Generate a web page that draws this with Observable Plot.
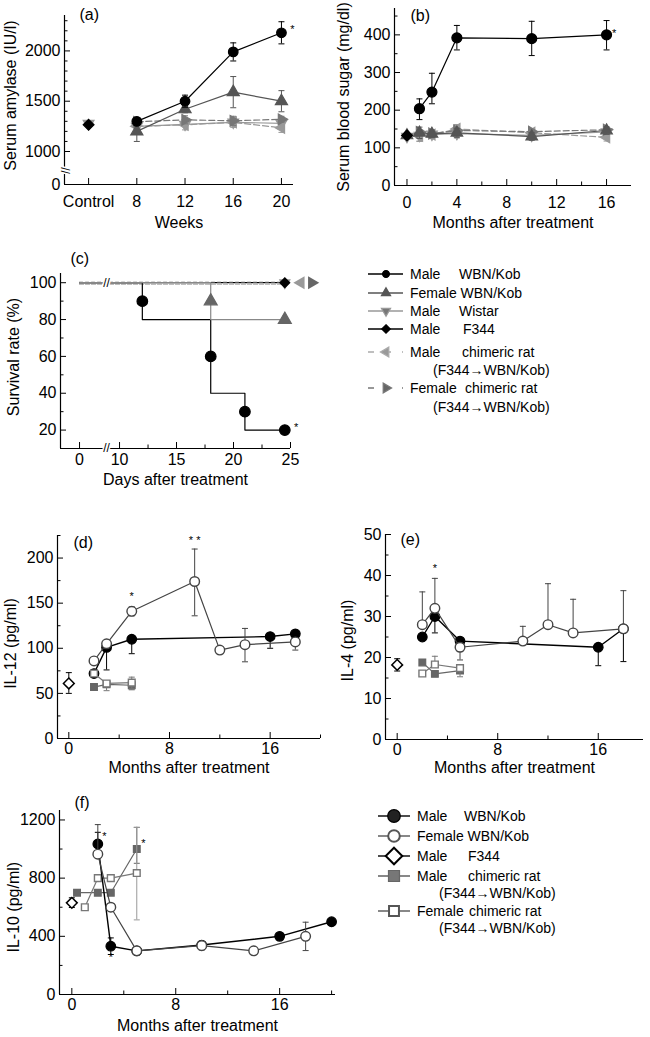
<!DOCTYPE html>
<html><head><meta charset="utf-8">
<script src="https://cdn.jsdelivr.net/npm/d3@7"></script>
<script src="https://cdn.jsdelivr.net/npm/@observablehq/plot@0.6"></script>
<style>
body{margin:0;background:#fff;font-family:"Liberation Sans",Arial,Helvetica,sans-serif;}
#root{position:relative;width:650px;height:1037px;overflow:hidden;background:#fff;}
.lg{position:absolute;font-size:14px;line-height:16px;white-space:pre;color:#000;}
.sw{position:absolute;overflow:visible;}
</style></head><body><div id="root"></div>
<script>
// ---------------- DATA ----------------
// (a) Serum amylase (IU/l) vs weeks
const aWeeks = [8, 12, 16, 20];
const aControlPos = 4;               // position of the "Control" tick
const aAxisZero = 672;               // broken-axis value shown as "0"
const aBreak = 811;
const aMaleWBN = [1300, 1500, 1990, 2180];
const aMaleWBNErr = [25, 60, 90, 110];
const aFemaleWBN = [1200, 1420, 1590, 1500];
const aFemaleWBNErr = [100, 35, 155, 105];
const aMaleWistar = [1250, 1270, 1290, 1280];
const aMaleChim = [1250, 1265, 1290, 1235];
const aMaleChimErr = [40, 50, 50, 45];
const aFemaleChim = [1295, 1315, 1305, 1320];
const aFemaleChimErr = [35, 40, 45, 30];
const aControlF344 = 1265, aControlWistar = 1278, aControlErr = 25;
const aStar = {x: 20.9, y: 2210};

// (b) Serum blood sugar (mg/dl) vs months
const bMonths = [0, 1, 2, 4, 10, 16];
const bMaleWBN = [null, 204, 248, 392, 390, 400];
const bMaleWBNLo = [null, 175, 217, 360, 345, 360];
const bMaleWBNHi = [null, 230, 298, 425, 436, 438];
const bFemaleWBN = [133, 140, 137, 140, 130, 146];
const bMaleWistar = [130, 133, 136, 138, 133, 142];
const bMaleChim = [null, 132, 135, 150, 140, 128];
const bFemaleChim = [null, 142, 138, 146, 143, 148];
const bGrayErr = [8, 15, 10, 12, 10, 10];
const bF344 = 133;
const bStar = {x: 16.6, y: 405};

// (c) Survival rate (%) vs days
const cZeroPos = 6.49;   // axis break: day 0 drawn here
const cBreak = 8.86;
const cTickDays = [0, 10, 15, 20, 25];
const cMaleWBNDays = [0, 12, 18, 21, 24.5];
const cMaleWBNSurv = [100, 80, 40, 20, 20];
const cMaleWBNMarkDays = [12, 18, 21, 24.5];
const cMaleWBNMarkSurv = [90, 60, 30, 20];
const cFemaleWBNDays = [0, 18, 24.5];
const cFemaleWBNSurv = [100, 80, 80];
const cFemaleWBNMarkDays = [18, 24.5];
const cFemaleWBNMarkSurv = [90, 80];
const cOtherDays = [0, 24.5];
const cOtherSurv = [100, 100];
const cStar = {x: 25.5, y: 21.6};

// (d) IL-12 (pg/ml)
const dMaleWBNMonths = [2, 3, 5, 16, 18];
const dMaleWBN = [72, 101, 110, 113, 116];
const dMaleWBNLo = [null, 76, 94, 100, null];
const dFemaleWBNMonths = [2, 3, 5, 10, 12, 14, 18];
const dFemaleWBN = [86, 105, 141, 174, 98, 104, 107];
const dFemaleWBNLo = [null, null, 136, 136, null, 85, 98];
const dFemaleWBNHi = [null, null, 146, 210, null, 122, null];
const dF344 = 61, dF344Lo = 50, dF344Hi = 73;
const dChimMonths = [2, 3, 5];
const dMaleChim = [57, 60, 59];
const dMaleChimLo = [null, null, 54];
const dFemaleChim = [72, 61, 62];
const dFemaleChimLo = [null, 53, 55];
const dFemaleChimHi = [null, null, 68];
const dStars = [{x: 5, y: 157, s: "*"}, {x: 10, y: 220, s: "* *"}];

// (e) IL-4 (pg/ml)
const eMaleWBNMonths = [2, 3, 5, 16, 18];
const eMaleWBN = [25, 30, 24, 22.5, 27];
const eMaleWBNLo = [null, 26, 21.5, 18, 19];
const eFemaleWBNMonths = [2, 3, 5, 10, 12, 14, 18];
const eFemaleWBN = [28, 32, 22.5, 24, 28, 26, 27];
const eFemaleWBNHi = [36, 39.3, null, 27.6, 38, 34.2, 36.3];
const eFemaleWBNLo = [null, null, 19.4, null, null, null, null];
const eF344 = 18.2, eF344Lo = 16.7, eF344Hi = 19.7;
const eChimMonths = [2, 3, 5];
const eMaleChim = [18.8, 16, 16.8];
const eFemaleChim = [16.1, 18.3, 17.4];
const eFemaleChimHi = [null, 20.3, null];
const eFemaleChimLo = [null, null, 15.3];
const eStars = [{x: 3, y: 41.6, s: "*"}];

// (f) IL-10 (pg/ml)
const fMaleWBNMonths = [2, 3, 5, 10, 16, 20];
const fMaleWBN = [1035, 332, 300, 340, 400, 500];
const fMaleWBNLo = [null, 275, null, null, null, null];
const fMaleWBNHi = [1115, 389, null, null, null, null];
const fFemaleWBNMonths = [2, 3, 5, 10, 14, 18];
const fFemaleWBN = [965, 600, 300, 336, 300, 400];
const fFemaleWBNLo = [null, null, null, 306, null, 302];
const fFemaleWBNHi = [1168, null, null, 366, null, 497];
const fF344 = 630, fF344Lo = 598, fF344Hi = 665;
const fMaleChimMonths = [0.4, 2, 3, 5];
const fMaleChim = [700, 700, 700, 1000];
const fMaleChimLo = [null, null, null, 902];
const fMaleChimHi = [null, null, null, 1149];
const fFemaleChimMonths = [1, 2, 3, 5];
const fFemaleChim = [600, 800, 800, 835];
const fFemaleChimLo = [null, null, null, 513];
const fFemaleChimHi = [null, null, null, 1149];
const fStars = [{x: 2.5, y: 1085, s: "*"}, {x: 3, y: 254, s: "*"}, {x: 5.5, y: 1037, s: "*"}];

// Legends
const legendC = [
  {parts: ["Male", "WBN/Kob"]}, {parts: ["Female WBN/Kob"]}, {parts: ["Male", "Wistar"]},
  {parts: ["Male", "F344"]}, {parts: ["Male", "chimeric rat"]}, {parts: ["(F344→WBN/Kob)"]},
  {parts: ["Female", "chimeric rat"]}, {parts: ["(F344→WBN/Kob)"]}
];
const legendF = [
  {parts: ["Male", "WBN/Kob"]}, {parts: ["Female WBN/Kob"]}, {parts: ["Male", "F344"]},
  {parts: ["Male", "chimeric rat"]}, {parts: ["(F344→WBN/Kob)"]},
  {parts: ["Female", "chimeric rat"]}, {parts: ["(F344→WBN/Kob)"]}
];

// ---------------- HELPERS ----------------
const FONT = '"Liberation Sans", Arial, Helvetica, sans-serif';
const root = document.getElementById("root");
const cap = {draw(ctx, size) { const w = Math.sqrt(size / Math.PI); ctx.moveTo(-w, 0); ctx.lineTo(w, 0); }};
const tri = deg => ({draw(ctx, size) {
  const R = Math.sqrt(size / 1.299);
  for (let i = 0; i < 3; i++) {
    const a = (deg + i * 120 - 90) * Math.PI / 180;
    const px = R * Math.cos(a), py = R * Math.sin(a);
    if (i === 0) ctx.moveTo(px, py); else ctx.lineTo(px, py);
  }
  ctx.closePath();
}});
const CIRCLE = d3.symbolCircle;
const TRI_UP = tri(0), TRI_DOWN = tri(180), TRI_LEFT = tri(-90), TRI_RIGHT = tri(90);
const DIAMOND = {draw(ctx, size) { const h = Math.sqrt(size / 2); ctx.moveTo(0, -h); ctx.lineTo(h, 0); ctx.lineTo(0, h); ctx.lineTo(-h, 0); ctx.closePath(); }};
const SQUARE = {draw(ctx, size) { const h = Math.sqrt(size) / 2; ctx.rect(-h, -h, 2 * h, 2 * h); }};

function series(xs, ys, o) {
  const {lo = [], hi = [], color = "#000", lineColor = color, errColor = color, dash = null, line = true,
         sym = CIRCLE, fill = color, r = 4.5, sw = 1.2, curve = "linear", capR = 3, msw = 1.2} = o;
  const rows = xs.map((x, i) => ({x, y: ys[i], lo: lo[i], hi: hi[i]})).filter(d => d.y != null);
  const L = rows.filter(d => d.lo != null), H = rows.filter(d => d.hi != null);
  return [
    line && Plot.line(rows, {x: "x", y: "y", stroke: lineColor, strokeWidth: sw, strokeDasharray: dash, curve}),
    Plot.ruleX(L, {x: "x", y1: "y", y2: "lo", stroke: errColor, strokeWidth: 1}),
    Plot.ruleX(H, {x: "x", y1: "y", y2: "hi", stroke: errColor, strokeWidth: 1}),
    Plot.dot(L, {x: "x", y: "lo", symbol: cap, r: capR, fill: "none", stroke: errColor, strokeWidth: 1}),
    Plot.dot(H, {x: "x", y: "hi", symbol: cap, r: capR, fill: "none", stroke: errColor, strokeWidth: 1}),
    sym && Plot.dot(rows, {x: "x", y: "y", symbol: sym, r, fill, stroke: color, strokeWidth: msw})
  ].filter(Boolean);
}
const pm = (v, e, s) => v.map((d, i) => d == null ? null : d + s * e[i]);
const stars = (arr, size = 11) => Plot.text(arr, {x: "x", y: "y", text: "s", fontSize: size, fill: "#000"});

function panel(cfg) {
  const {left, top, width, height, m: [mt, mr, mb, ml], xd, yd, xt, xf = d => String(d), xm = [], yt, yf = d => String(d), ym = [],
         xPad, yPad = 4, ytitle, ytdx, ytdy = 0, xtitle, xtdy, tag, tagdx, tagdy, marks} = cfg;
  const pw = width - ml - mr, ph = height - mt - mb;
  const chart = Plot.plot({
    width, height, marginTop: mt, marginRight: mr, marginBottom: mb, marginLeft: ml,
    x: {type: "linear", domain: xd, ticks: xt, tickFormat: xf, tickSize: 0, tickPadding: xPad, label: null},
    y: {type: "linear", domain: yd, ticks: yt, tickFormat: yf, tickSize: 0, tickPadding: yPad, label: null},
    style: {fontSize: "16px", fontFamily: FONT, color: "#000", background: "transparent", overflow: "visible"},
    marks: [
      Plot.ruleX([xd[0]], {stroke: "#000", strokeWidth: 1.2}),
      Plot.ruleY([yd[0]], {stroke: "#000", strokeWidth: 1.2}),
      Plot.tickX(xt, {x: d => d, insetTop: ph - 6, stroke: "#000"}),
      Plot.tickX(xm, {x: d => d, insetTop: ph - 3.5, stroke: "#000"}),
      Plot.tickY(yt, {y: d => d, insetRight: pw - 6, stroke: "#000"}),
      Plot.tickY(ym, {y: d => d, insetRight: pw - 3.5, stroke: "#000"}),
      Plot.text([ytitle], {text: d => d, frameAnchor: "left", textAnchor: "middle", lineAnchor: "middle", rotate: -90, dx: ytdx, dy: ytdy, fontSize: 16, fill: "#000"}),
      Plot.text([xtitle], {text: d => d, frameAnchor: "bottom", textAnchor: "middle", lineAnchor: "middle", dy: xtdy, fontSize: 16, fill: "#000"}),
      Plot.text([tag], {text: d => d, frameAnchor: "top-left", textAnchor: "start", lineAnchor: "middle", dx: tagdx, dy: tagdy, fontSize: 16, fill: "#000"}),
      ...marks
    ]
  });
  chart.style.position = "absolute";
  chart.style.left = left + "px";
  chart.style.top = top + "px";
  root.appendChild(chart);
}
const breakMark = (x, y, rot) => Plot.text(["//"], {x: () => x, y: () => y, text: d => d, rotate: rot, fontSize: 12,
  fill: "#000", stroke: "white", strokeWidth: 3});

// ---------------- (a) ----------------
panel({
  left: 0, top: 0, width: 325, height: 235, m: [15, 32, 51, 64],
  xd: [2, 21], yd: [aAxisZero, 2352],
  xt: [aControlPos, ...aWeeks], xf: d => d === aControlPos ? "Control" : String(d), xPad: 11,
  yt: [aAxisZero, 1000, 1500, 2000], yf: d => d === aAxisZero ? "0" : String(d),
  ym: [1100, 1200, 1300, 1400, 1600, 1700, 1800, 1900, 2100, 2200, 2300],
  ytitle: "Serum amylase (IU/l)", ytdx: -54, ytdy: -4.5, xtitle: "Weeks", xtdy: 38,
  tag: "(a)", tagdx: 15, tagdy: -1,
  marks: [
    ...series(aWeeks, aMaleWistar, {color: "#999", sym: TRI_DOWN, r: 4}),
    ...series(aWeeks, aMaleChim, {lo: pm(aMaleChim, aMaleChimErr, -1), hi: pm(aMaleChim, aMaleChimErr, 1), color: "#999", dash: "6,3", sym: TRI_LEFT, r: 4}),
    ...series(aWeeks, aFemaleChim, {lo: pm(aFemaleChim, aFemaleChimErr, -1), hi: pm(aFemaleChim, aFemaleChimErr, 1), color: "#777", dash: "6,3", sym: TRI_RIGHT, r: 4}),
    ...series(aWeeks, aFemaleWBN, {lo: pm(aFemaleWBN, aFemaleWBNErr, -1), hi: pm(aFemaleWBN, aFemaleWBNErr, 1), color: "#555", sym: TRI_UP, r: 4.5}),
    ...series(aWeeks, aMaleWBN, {lo: pm(aMaleWBN, aMaleWBNErr, -1), hi: pm(aMaleWBN, aMaleWBNErr, 1), color: "#000", r: 4.8}),
    ...series([aControlPos], [aControlWistar], {line: false, color: "#999", sym: TRI_DOWN, r: 4, lo: [aControlWistar - aControlErr], hi: [aControlWistar + aControlErr]}),
    ...series([aControlPos], [aControlF344], {line: false, color: "#000", sym: DIAMOND, r: 4.3}),
    stars([{...aStar, s: "*"}]),
    breakMark(2, aBreak, 90)
  ]
});

// ---------------- (b) ----------------
panel({
  left: 330, top: 0, width: 320, height: 235, m: [8, 19, 50, 64],
  xd: [-1, 18], yd: [0, 470],
  xt: [0, 4, 8, 12, 16], xm: [2, 6, 10, 14], xPad: 11,
  yt: [0, 100, 200, 300, 400], ym: [50, 150, 250, 350, 450],
  ytitle: "Serum blood sugar (mg/dl)", ytdx: -51, ytdy: 0, xtitle: "Months after treatment", xtdy: 37,
  tag: "(b)", tagdx: 16, tagdy: 7,
  marks: [
    ...series(bMonths, bMaleWistar, {lo: pm(bMaleWistar, bGrayErr, -1), hi: pm(bMaleWistar, bGrayErr, 1), color: "#999", sym: TRI_DOWN, r: 4}),
    ...series(bMonths, bMaleChim, {lo: pm(bMaleChim, bGrayErr, -1), hi: pm(bMaleChim, bGrayErr, 1), color: "#999", dash: "6,3", sym: TRI_LEFT, r: 4}),
    ...series(bMonths, bFemaleChim, {color: "#777", dash: "6,3", sym: TRI_RIGHT, r: 4}),
    ...series(bMonths, bFemaleWBN, {lo: pm(bFemaleWBN, bGrayErr, -1), hi: pm(bFemaleWBN, bGrayErr, 1), color: "#555", sym: TRI_UP, r: 4.3}),
    ...series([0], [bF344], {line: false, color: "#000", sym: DIAMOND, r: 4.3}),
    ...series(bMonths, bMaleWBN, {lo: bMaleWBNLo, hi: bMaleWBNHi, color: "#000", r: 5}),
    stars([{...bStar, s: "*"}])
  ]
});

// ---------------- (c) ----------------
const cx = d => d < 10 ? cZeroPos + d * (10 - cZeroPos) / 10 : d;
const cTickLabel = new Map(cTickDays.map(d => [cx(d), d]));
const cOther = cOtherDays.map((d, i) => ({x: cx(d), y: cOtherSurv[i]}));
const cEnd = [{x: cOtherDays[1], y: cOtherSurv[1]}];
panel({
  left: 0, top: 235, width: 325, height: 255, m: [38, 35, 42, 60],
  xd: [4.82, 25], yd: [10, 105],
  xt: cTickDays.map(cx), xf: v => String(cTickLabel.get(v)), xm: [12.5, 17.5, 22.5], xPad: 5,
  yt: [20, 40, 60, 80, 100], ym: [30, 50, 70, 90],
  ytitle: "Survival rate (%)", ytdx: -47, ytdy: -4, xtitle: "Days after treatment", xtdy: 31,
  tag: "(c)", tagdx: 10, tagdy: -15,
  marks: [
    Plot.line(cOther, {x: "x", y: "y", stroke: "#000", strokeWidth: 1.2}),
    Plot.line(cOther, {x: "x", y: "y", stroke: "#aaa", strokeWidth: 1.2, strokeDasharray: "4,2", dy: 1.5}),
    Plot.line(cOther, {x: "x", y: "y", stroke: "#777", strokeWidth: 1, strokeDasharray: "3,3", dy: -0.5}),
    ...series(cMaleWBNDays.map(cx), cMaleWBNSurv, {color: "#000", sym: null, curve: "step-after"}),
    ...series(cFemaleWBNDays.map(cx), cFemaleWBNSurv, {color: "#888", sym: null, curve: "step-after"}),
    ...series(cMaleWBNMarkDays, cMaleWBNMarkSurv, {line: false, color: "#000", r: 5.3}),
    ...series(cFemaleWBNMarkDays, cFemaleWBNMarkSurv, {line: false, color: "#666", sym: TRI_UP, r: 4.8}),
    Plot.dot(cEnd, {x: "x", y: "y", symbol: TRI_DOWN, r: 4.5, fill: "#999"}),
    Plot.dot(cEnd, {x: "x", y: "y", symbol: DIAMOND, r: 4.6, fill: "#000"}),
    Plot.dot(cEnd, {x: "x", y: "y", symbol: TRI_LEFT, r: 4.8, fill: "#999", dx: 16}),
    Plot.dot(cEnd, {x: "x", y: "y", symbol: TRI_RIGHT, r: 4.8, fill: "#666", dx: 27}),
    stars([{...cStar, s: "*"}]),
    breakMark(cBreak, 10, 0),
    breakMark(cBreak, 100, 0)
  ]
});

// ---------------- (d) ----------------
panel({
  left: 0, top: 490, width: 330, height: 295, m: [45, 10, 47, 57],
  xd: [-0.9, 20], yd: [0, 225],
  xt: [0, 8, 16], xm: [4, 12, 20], xPad: 4,
  yt: [0, 50, 100, 150, 200], ym: [25, 75, 125, 175, 225],
  ytitle: "IL-12 (pg/ml)", ytdx: -47, ytdy: 6.5, xtitle: "Months after treatment", xtdy: 29,
  tag: "(d)", tagdx: 16, tagdy: 7,
  marks: [
    ...series([0], [dF344], {line: false, lo: [dF344Lo], hi: [dF344Hi], color: "#000", sym: DIAMOND, fill: "white", r: 4.3, msw: 1.5}),
    ...series(dMaleWBNMonths, dMaleWBN, {lo: dMaleWBNLo, color: "#000", r: 4.8, sw: 1.4}),
    ...series(dChimMonths, dMaleChim, {lo: dMaleChimLo, color: "#666", sym: SQUARE, r: 3.8}),
    ...series(dChimMonths, dFemaleChim, {lo: dFemaleChimLo, hi: dFemaleChimHi, color: "#777", sym: SQUARE, fill: "white", r: 3.8, msw: 1.4}),
    ...series(dFemaleWBNMonths, dFemaleWBN, {lo: dFemaleWBNLo, hi: dFemaleWBNHi, color: "#444", fill: "white", r: 4.8, msw: 1.4}),
    stars(dStars)
  ]
});

// ---------------- (e) ----------------
panel({
  left: 330, top: 490, width: 320, height: 295, m: [44, 7, 46, 55],
  xd: [-0.93, 19.6], yd: [0, 50],
  xt: [0, 8, 16], xm: [4, 12], xPad: 4,
  yt: [0, 10, 20, 30, 40, 50], ym: [5, 15, 25, 35, 45],
  ytitle: "IL-4 (pg/ml)", ytdx: -37.5, ytdy: 3.5, xtitle: "Months after treatment", xtdy: 28,
  tag: "(e)", tagdx: 15, tagdy: 5,
  marks: [
    ...series([0], [eF344], {line: false, lo: [eF344Lo], hi: [eF344Hi], color: "#000", sym: DIAMOND, fill: "white", r: 4.3, msw: 1.5}),
    ...series(eChimMonths, eMaleChim, {color: "#666", sym: SQUARE, r: 3.8}),
    ...series(eChimMonths, eFemaleChim, {lo: eFemaleChimLo, hi: eFemaleChimHi, color: "#777", sym: SQUARE, fill: "white", r: 3.8, msw: 1.4}),
    ...series(eMaleWBNMonths, eMaleWBN, {lo: eMaleWBNLo, color: "#000", r: 4.8, sw: 1.4}),
    ...series(eFemaleWBNMonths, eFemaleWBN, {lo: eFemaleWBNLo, hi: eFemaleWBNHi, color: "#444", fill: "white", r: 4.8, msw: 1.4}),
    stars(eStars)
  ]
});

// ---------------- (f) ----------------
panel({
  left: 0, top: 785, width: 340, height: 252, m: [25, 5, 43, 59],
  xd: [-0.95, 20.3], yd: [0, 1265],
  xt: [0, 8, 16], xm: [4, 12, 20], xPad: 4,
  yt: [0, 400, 800, 1200], ym: [200, 600, 1000],
  ytitle: "IL-10 (pg/ml)", ytdx: -46, ytdy: 4.7, xtitle: "Months after treatment", xtdy: 31,
  tag: "(f)", tagdx: 15, tagdy: -8,
  marks: [
    ...series([0], [fF344], {line: false, lo: [fF344Lo], hi: [fF344Hi], color: "#000", sym: DIAMOND, fill: "white", r: 4.3, msw: 1.5}),
    ...series(fMaleChimMonths, fMaleChim, {lo: fMaleChimLo, hi: fMaleChimHi, color: "#666", sym: SQUARE, r: 3.8}),
    ...series(fFemaleChimMonths, fFemaleChim, {lo: fFemaleChimLo, hi: fFemaleChimHi, color: "#777", errColor: "#999", sym: SQUARE, fill: "white", r: 3.8, msw: 1.4}),
    ...series(fMaleWBNMonths, fMaleWBN, {lo: fMaleWBNLo, hi: fMaleWBNHi, color: "#000", r: 4.8, sw: 1.4}),
    ...series(fFemaleWBNMonths, fFemaleWBN, {lo: fFemaleWBNLo, hi: fFemaleWBNHi, color: "#444", fill: "white", r: 4.8, msw: 1.4}),
    stars(fStars)
  ]
});

// ---------------- LEGENDS ----------------
function addLegend(items, styles, {sx, sw, mx}) {
  items.forEach((it, i) => {
    const st = styles[i];
    if (st.sym) {
      const d = d3.symbol(st.sym, Math.PI * st.r * st.r)();
      root.insertAdjacentHTML("beforeend",
        `<svg class="sw" width="${sw}" height="20" style="left:${sx}px;top:${st.y - 10}px">` +
        `<line x1="0" x2="${sw}" y1="10" y2="10" stroke="${st.lc || st.color}" stroke-width="1.4" ${st.dash ? `stroke-dasharray="${st.dash}"` : ""}/>` +
        `<path d="${d}" transform="translate(${mx},10)" fill="${st.fill}" stroke="${st.color}" stroke-width="${st.msw || 1.2}"/></svg>`);
    }
    it.parts.forEach((t, j) => {
      root.insertAdjacentHTML("beforeend", `<div class="lg" style="left:${st.tx[j]}px;top:${st.y - 8}px">${t}</div>`);
    });
  });
}
addLegend(legendC, [
  {y: 274, color: "#000", fill: "#000", sym: CIRCLE, r: 3.4, tx: [410, 459]},
  {y: 292.7, color: "#555", fill: "#555", sym: TRI_UP, r: 3.4, tx: [410]},
  {y: 310.7, color: "#999", fill: "#777", sym: TRI_DOWN, r: 3.4, tx: [410, 459]},
  {y: 329.3, color: "#000", fill: "#000", sym: DIAMOND, r: 3.4, tx: [410, 463]},
  {y: 351.7, color: "#aaa", fill: "#999", sym: TRI_LEFT, r: 3.6, dash: "6,11", tx: [410, 462]},
  {y: 370, tx: [433]},
  {y: 388.3, color: "#777", fill: "#666", sym: TRI_RIGHT, r: 3.6, dash: "6,11", tx: [410, 465]},
  {y: 406.7, tx: [433]}
], {sx: 368, sw: 35, mx: 18});
addLegend(legendF, [
  {y: 816, color: "#000", fill: "#222", sym: CIRCLE, r: 6.3, tx: [417, 464]},
  {y: 836, color: "#555", fill: "white", sym: CIRCLE, r: 5.8, msw: 2, tx: [417]},
  {y: 856, color: "#000", fill: "white", sym: DIAMOND, r: 6.6, msw: 2, tx: [417, 468]},
  {y: 875.7, color: "#666", lc: "#555", fill: "#777", sym: SQUARE, r: 6.2, tx: [417, 468]},
  {y: 892.7, tx: [439]},
  {y: 911, color: "#555", fill: "white", sym: SQUARE, r: 5.6, msw: 2, tx: [417, 469]},
  {y: 928.3, tx: [439]}
], {sx: 378, sw: 32, mx: 16});
</script></body></html>
